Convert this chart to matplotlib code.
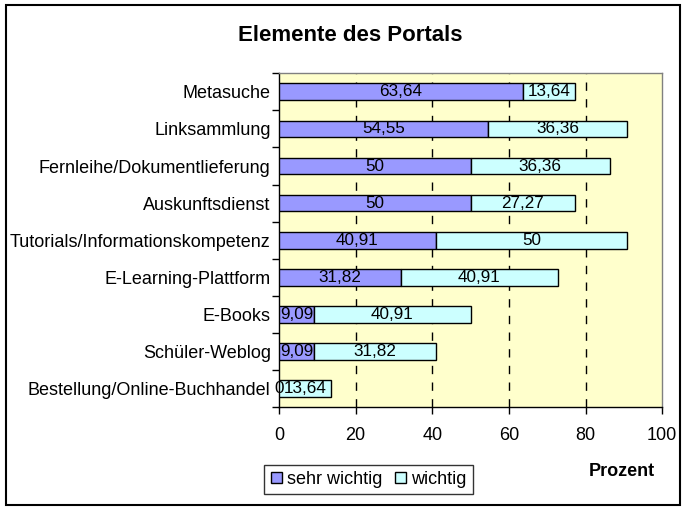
import numpy as np
import matplotlib
matplotlib.use("Agg")
import matplotlib.pyplot as plt
from matplotlib.patches import Rectangle, Patch

plt.rcParams["font.family"] = ["Liberation Sans", "DejaVu Sans"]

categories = ["Metasuche", "Linksammlung", "Fernleihe/Dokumentlieferung",
              "Auskunftsdienst", "Tutorials/Informationskompetenz",
              "E-Learning-Plattform", "E-Books", "Schüler-Weblog",
              "Bestellung/Online-Buchhandel"]
sehr_wichtig = [63.64, 54.55, 50, 50, 40.91, 31.82, 9.09, 9.09, 0]
wichtig = [13.64, 36.36, 36.36, 27.27, 50, 40.91, 40.91, 31.82, 13.64]
series_names = ["sehr wichtig", "wichtig"]
x_ticks = [0, 20, 40, 60, 80, 100]

col_sehr = "#9999FF"
col_wichtig = "#CCFFFF"
fs = 13


def de_fmt(v):
    return f"{v:g}".replace(".", ",")


fig = plt.figure(figsize=(6.84, 5.09), dpi=100)
ax = fig.add_axes([0.408, 0.200, 0.560, 0.656])
ax.set_facecolor("#FFFFCC")

y = np.arange(len(categories))
h = 0.45
ax.barh(y, sehr_wichtig, height=h, color=col_sehr, edgecolor="black", linewidth=1, zorder=3)
ax.barh(y, wichtig, height=h, left=sehr_wichtig, color=col_wichtig, edgecolor="black", linewidth=1, zorder=3)

# value labels centred in each segment
for i in range(len(categories)):
    ax.text(sehr_wichtig[i] / 2, y[i], de_fmt(sehr_wichtig[i]), ha="center", va="center",
            fontsize=12.3, zorder=4)
    ax.text(sehr_wichtig[i] + wichtig[i] / 2, y[i], de_fmt(wichtig[i]), ha="center", va="center",
            fontsize=12.3, zorder=4)

ax.set_xlim(0, 100)
ax.set_ylim(len(categories) - 0.5, -0.5)
ax.set_xticks(x_ticks)
ax.set_xticklabels([str(t) for t in x_ticks], fontsize=fs)
ax.set_yticks(y)
ax.set_yticklabels(categories, fontsize=fs)
ax.tick_params(axis="y", which="major", length=0, pad=6)
ax.set_yticks(np.arange(-0.5, len(categories) + 0.5, 1), minor=True)
ax.tick_params(axis="y", which="minor", length=5, direction="out", width=1)
ax.tick_params(axis="x", length=5, direction="out", width=1, pad=9)

for gx in x_ticks[1:-1]:
    ax.axvline(gx, color="black", linestyle=(0, (6, 6)), linewidth=1, zorder=1)

ax.spines["left"].set_color("black")
ax.spines["bottom"].set_color("black")
ax.spines["top"].set_color("#808080")
ax.spines["right"].set_color("#808080")
for s in ax.spines.values():
    s.set_linewidth(1)

fig.text(0.512, 0.930, "Elemente des Portals", ha="center", va="center",
         fontsize=16, fontweight="bold")
fig.text(0.909, 0.073, "Prozent", ha="center", va="center", fontsize=13, fontweight="bold")

handles = [Patch(facecolor=col_sehr, edgecolor="black"), Patch(facecolor=col_wichtig, edgecolor="black")]
leg = fig.legend(handles, series_names, loc="center", bbox_to_anchor=(0.539, 0.058),
                 ncol=2, fontsize=fs, frameon=True, fancybox=False, edgecolor="black",
                 handlelength=0.6, handleheight=0.6, handletextpad=0.3, columnspacing=0.7,
                 borderpad=0.35, borderaxespad=0)
leg.get_frame().set_linewidth(1)

fig.patches.append(Rectangle((0.009, 0.008), 0.985, 0.982, transform=fig.transFigure,
                             fill=False, edgecolor="black", linewidth=1.5))

fig.savefig("out.png", dpi=100)
